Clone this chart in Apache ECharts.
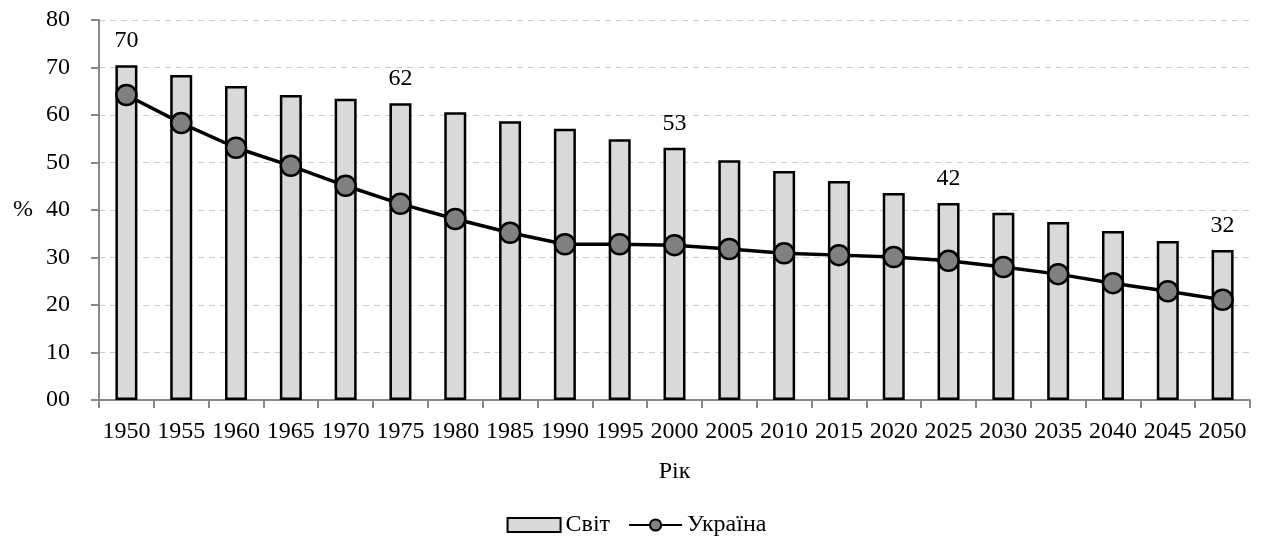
<!DOCTYPE html>
<html>
<head>
<meta charset="utf-8">
<script src="https://cdn.jsdelivr.net/npm/echarts@6/dist/echarts.min.js"></script>
<style>
  html, body { margin: 0; padding: 0; background: #fff; }
  #chart { width: 1273px; height: 544px; }
</style>
</head>
<body>
<div id="chart"></div>
<script>
// роки
const years = ['1950', '1955', '1960', '1965', '1970', '1975', '1980', '1985', '1990', '1995', '2000',
  '2005', '2010', '2015', '2020', '2025', '2030', '2035', '2040', '2045', '2050']
// Світ
const worldValues = [70.5, 68.4, 66.1, 64.2, 63.4, 62.5, 60.6, 58.7, 57.1, 54.9, 53.1,
  50.5, 48.2, 46.1, 43.6, 41.5, 39.4, 37.5, 35.6, 33.5, 31.6]
// Україна
const ukraineValues = [64.2, 58.3, 53.1, 49.3, 45.1, 41.3, 38.1, 35.2, 32.8, 32.8, 32.6,
  31.8, 30.9, 30.5, 30.1, 29.3, 28.0, 26.5, 24.6, 22.9, 21.1]
// підписи над стовпчиками
const labelYears = ['1950', '1975', '2000', '2025', '2050']
const labelTexts = ['70', '62', '53', '42', '32']
const yTicks = ['00', '10', '20', '30', '40', '50', '60', '70', '80']

const font = "'Liberation Serif', 'Times New Roman', serif"
const fs = 24
const chart = echarts.init(document.getElementById('chart'))

const option = {
  animation: false,
  textStyle: { fontFamily: font, color: '#000' },
  grid: { left: 99, right: 23, top: 20, bottom: 144 },
  legend: {
    bottom: 2,
    left: 'center',
    itemWidth: 53,
    itemHeight: 14,
    itemGap: 18,
    textStyle: { fontFamily: font, fontSize: fs, color: '#000' },
    data: [{ name: 'Світ', icon: 'rect' }, 'Україна']
  },
  xAxis: {
    type: 'category',
    data: years,
    boundaryGap: true,
    name: 'Рік',
    nameLocation: 'middle',
    nameGap: 60,
    nameTextStyle: { fontFamily: font, fontSize: fs, color: '#000' },
    axisLine: { lineStyle: { color: '#888', width: 2 } },
    axisTick: { show: true, length: 8, lineStyle: { color: '#888', width: 2 } },
    axisLabel: { interval: 0, margin: 20, fontFamily: font, fontSize: fs, color: '#000' },
    splitLine: { show: false }
  },
  yAxis: {
    type: 'value',
    min: 0,
    max: 80,
    interval: 10,
    name: '%',
    nameLocation: 'middle',
    nameRotate: 0,
    nameGap: 66,
    nameTextStyle: { fontFamily: font, fontSize: fs, color: '#000' },
    axisLine: { show: true, lineStyle: { color: '#888', width: 2 } },
    axisTick: { show: true, length: 8, lineStyle: { color: '#888', width: 2 } },
    axisLabel: {
      margin: 29,
      fontFamily: font,
      fontSize: fs,
      color: '#000',
      formatter: (v) => yTicks[Math.round(v / 10)]
    },
    splitLine: { show: true, lineStyle: { color: '#ccc', type: [6, 5], width: 1 } }
  },
  series: [
    {
      name: 'Світ',
      type: 'bar',
      data: worldValues,
      barWidth: 22,
      itemStyle: { color: '#d9d9d9', borderColor: '#000', borderWidth: 2.5 },
      label: {
        show: true,
        position: 'top',
        distance: 12,
        fontFamily: font,
        fontSize: fs,
        color: '#000',
        formatter: (p) => {
          const i = labelYears.indexOf(p.name)
          return i >= 0 ? labelTexts[i] : ''
        }
      }
    },
    {
      name: 'Україна',
      type: 'line',
      data: ukraineValues,
      symbol: 'circle',
      symbolSize: 20,
      lineStyle: { color: '#000', width: 3.5 },
      itemStyle: { color: '#808080', borderColor: '#000', borderWidth: 2.5 },
      z: 3
    }
  ]
}

chart.setOption(option)
</script>
</body>
</html>
